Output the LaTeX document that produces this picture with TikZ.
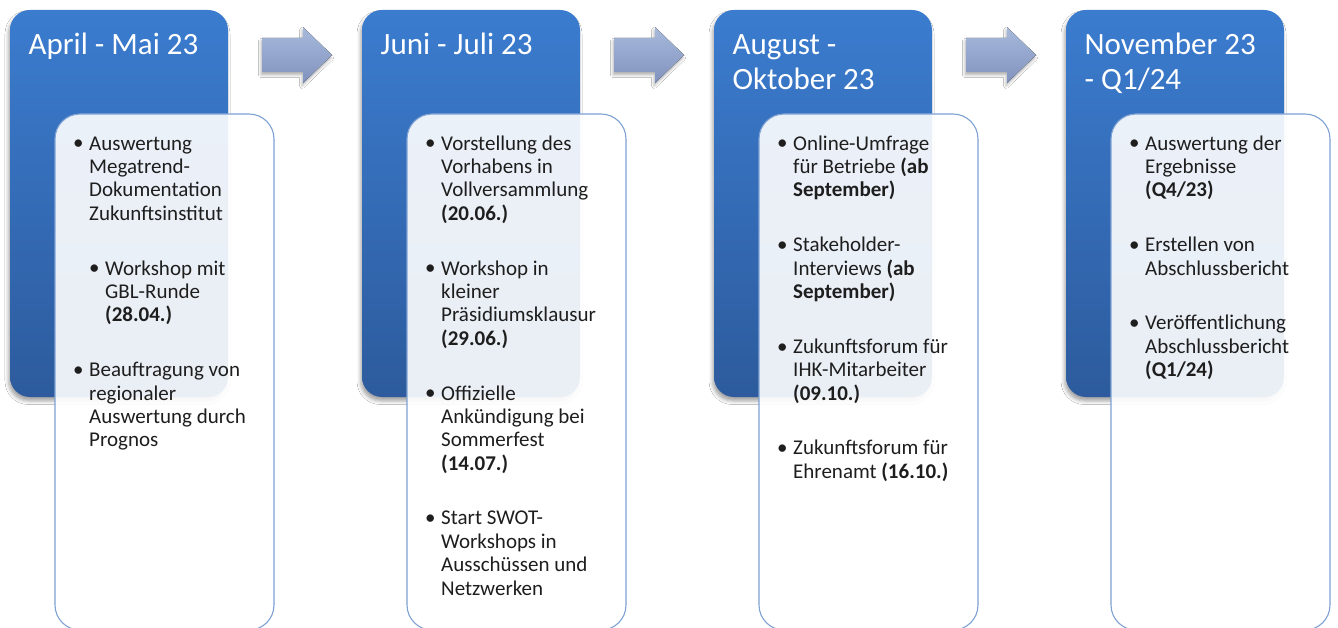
\documentclass[tikz,border=0pt]{standalone}
\usepackage{fontspec}
\setmainfont{Carlito}
\usetikzlibrary{shadows.blur,calc}
\definecolor{bluetop}{HTML}{3B7CCF}
\definecolor{bluebot}{HTML}{2D5B9D}
\definecolor{arrtop}{HTML}{A8B9DC}
\definecolor{arrbot}{HTML}{8193BE}
\definecolor{boxline}{HTML}{7FA1D3}
\definecolor{bodytext}{HTML}{1E1E1E}
\tikzset{
 phase/.style={rectangle, rounded corners=20pt, minimum width=218pt, minimum height=387pt,
   inner sep=0pt, top color=bluetop, bottom color=bluebot,
   blur shadow={shadow xshift=-1.5pt, shadow yshift=-4pt, shadow blur radius=3.5pt, shadow opacity=35}},
 hdr/.style={anchor=north west, inner sep=0pt, align=left, text=white, font=\fontsize{31}{35}\selectfont},
 detail/.style={rectangle, rounded corners=25pt, minimum width=219pt, minimum height=516pt,
   inner sep=0pt, fill=white, fill opacity=0.9, draw=boxline, draw opacity=1, line width=1.1pt},
 itemtext/.style={anchor=north west, inner sep=0pt, align=left, text=bodytext, font=\fontsize{21}{23.4}\selectfont},
 bul/.style={anchor=base west, inner sep=0pt, text=bodytext, font=\fontsize{21}{23.4}\selectfont},
 flow/.style={top color=arrtop, bottom color=arrbot,
   blur shadow={shadow xshift=-1pt, shadow yshift=-3pt, shadow blur radius=2.5pt, shadow opacity=30}}
}
\newcommand\myitem[5]{%
 \node[itemtext] (#1) at ({#2+34+#4},{#3-17}) {\rule{0pt}{17pt}#5};
 \node[bul] (#1b) at ({#2+18+#4},{#3}) {\textbullet};
}
\newcommand\myarrow[2]{%
 \coordinate (#1) at (#2,55);
 \fill[flow] (#1) -- ++(0,-17) -- ++(41,0) -- ++(0,-11) -- ++(29,28) -- ++(-29,28)
   -- ++(0,-11) -- ++(-41,0) -- cycle;
}
\begin{document}
\begin{tikzpicture}[x=1pt,y=-1pt]
\useasboundingbox (0,0) rectangle (1338,628);
\clip (0,0) rectangle (1338,628);
\fill[white] (0,0) rectangle (1338,628);

% phase boxes
\node[phase] (p1) at (119,203.5) {};
\node[phase] (p2) at (471,203.5) {};
\node[phase] (p3) at (823,203.5) {};
\node[phase] (p4) at (1175,203.5) {};

\node[hdr] (h1) at (28.5,29) {\rule{0pt}{25pt}April - Mai 23};
\node[hdr] (h2) at (380.5,29) {\rule{0pt}{25pt}Juni - Juli 23};
\node[hdr] (h3) at (732.5,29) {\rule{0pt}{25pt}August -\\Oktober 23};
\node[hdr] (h4) at (1084.5,29) {\rule{0pt}{25pt}November 23\\- Q1/24};

% arrows
\myarrow{a1}{262}
\myarrow{a2}{614}
\myarrow{a3}{966}

% detail boxes
\node[detail] (d1) at (164.5,372) {};
\node[detail] (d2) at (516.5,372) {};
\node[detail] (d3) at (868.5,372) {};
\node[detail] (d4) at (1220.5,372) {};

% column 1
\myitem{c1a}{55}{150}{0}{Auswertung\\Megatrend-\\Dokumentation\\Zukunftsinstitut}
\myitem{c1b}{55}{274.9}{16}{Workshop mit\\GBL-Runde\\\textbf{(28.04.)}}
\myitem{c1c}{55}{376.4}{0}{Beauftragung von\\regionaler\\Auswertung durch\\Prognos}

% column 2
\myitem{c2a}{407}{150}{0}{Vorstellung des\\Vorhabens in\\Vollversammlung\\\textbf{(20.06.)}}
\myitem{c2b}{407}{274.9}{0}{Workshop in\\kleiner\\Präsidiumsklausur\\\textbf{(29.06.)}}
\myitem{c2c}{407}{399.8}{0}{Offizielle\\Ankündigung bei\\Sommerfest\\\textbf{(14.07.)}}
\myitem{c2d}{407}{524.7}{0}{Start SWOT-\\Workshops in\\Ausschüssen und\\Netzwerken}

% column 3
\myitem{c3a}{759}{150}{0}{Online-Umfrage\\für Betriebe \textbf{(ab}\\\textbf{September)}}
\myitem{c3b}{759}{251.5}{0}{Stakeholder-\\Interviews \textbf{(ab}\\\textbf{September)}}
\myitem{c3c}{759}{353}{0}{Zukunftsforum für\\IHK-Mitarbeiter\\\textbf{(09.10.)}}
\myitem{c3d}{759}{454.5}{0}{Zukunftsforum für\\Ehrenamt \textbf{(16.10.)}}

% column 4
\myitem{c4a}{1111}{150}{0}{Auswertung der\\Ergebnisse\\\textbf{(Q4/23)}}
\myitem{c4b}{1111}{251.5}{0}{Erstellen von\\Abschlussbericht}
\myitem{c4c}{1111}{329.6}{0}{Veröffentlichung\\Abschlussbericht\\\textbf{(Q1/24)}}
\end{tikzpicture}
\end{document}
